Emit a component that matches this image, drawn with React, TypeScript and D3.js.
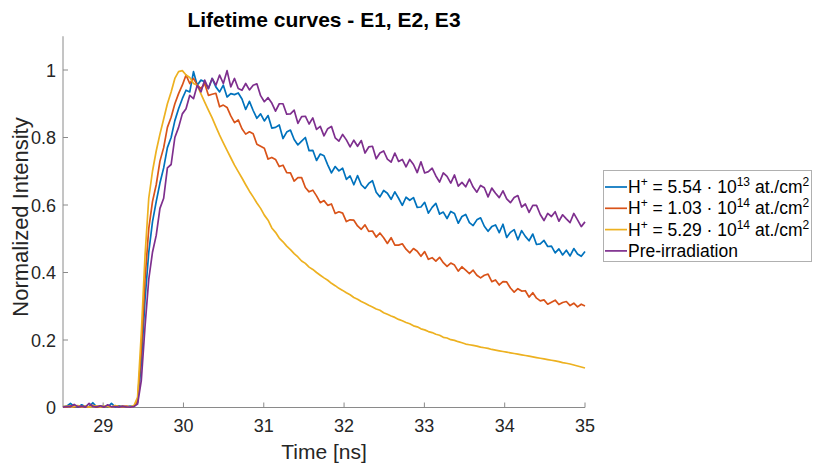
import React from "react";
import * as d3 from "d3";

const T_START = 28.5;
const T_END = 35;

const seriesNames = ["E1", "E2", "E3", "Pre"];
const colors = ["#0072BD", "#D95319", "#EDB120", "#7E2F8E"];

const blue = [
  0.002,0.004,0.012,0.003,0.001,0.008,0.002,0.003,0.014,0.002,
  0.004,0.003,0.001,0.012,0.002,0.005,0.003,0.002,0.004,0.003,
  0.015,0.13,0.32,0.46,0.55,0.61,0.665,0.71,0.77,0.80,
  0.85,0.885,0.915,0.94,0.935,0.995,0.955,0.97,0.965,0.945,
  0.975,0.95,0.935,0.955,0.92,0.93,0.927,0.932,0.914,0.883,
  0.907,0.88,0.857,0.87,0.849,0.865,0.828,0.83,0.837,0.797,
  0.816,0.822,0.794,0.778,0.789,0.80,0.761,0.762,0.732,0.751,
  0.746,0.719,0.695,0.714,0.701,0.709,0.676,0.686,0.66,0.687,
  0.66,0.649,0.664,0.672,0.638,0.624,0.643,0.635,0.617,0.639,
  0.62,0.599,0.623,0.614,0.622,0.593,0.594,0.608,0.576,0.593,
  0.605,0.573,0.579,0.56,0.581,0.575,0.546,0.566,0.572,0.548,
  0.539,0.556,0.562,0.537,0.522,0.536,0.541,0.518,0.543,0.504,
  0.519,0.527,0.497,0.524,0.507,0.494,0.514,0.483,0.485,0.495,
  0.477,0.478,0.458,0.47,0.452,0.466,0.449,0.471,0.455,0.448,0.462,
];

const red = [
  0.003,0.001,0.005,0.002,0.004,0.001,0.003,0.002,0.006,0.001,
  0.003,0.002,0.004,0.001,0.005,0.003,0.002,0.004,0.001,0.004,
  0.02,0.17,0.38,0.53,0.61,0.66,0.73,0.77,0.83,0.86,
  0.90,0.93,0.955,0.985,0.96,0.975,0.955,0.945,0.96,0.925,
  0.928,0.931,0.891,0.896,0.889,0.864,0.844,0.852,0.826,0.81,
  0.817,0.811,0.78,0.774,0.768,0.736,0.741,0.735,0.714,0.718,
  0.696,0.695,0.671,0.681,0.681,0.652,0.639,0.644,0.627,0.607,
  0.613,0.599,0.603,0.575,0.58,0.576,0.551,0.556,0.555,0.538,
  0.528,0.541,0.522,0.523,0.505,0.517,0.503,0.486,0.503,0.481,
  0.481,0.485,0.469,0.458,0.471,0.463,0.448,0.462,0.439,0.444,
  0.434,0.445,0.429,0.418,0.428,0.422,0.404,0.417,0.407,0.397,
  0.407,0.392,0.384,0.392,0.395,0.373,0.378,0.363,0.373,0.372,
  0.354,0.342,0.352,0.345,0.346,0.327,0.34,0.324,0.316,0.319,
  0.306,0.312,0.318,0.305,0.311,0.314,0.302,0.309,0.298,0.306,0.301,
];

const yellow = [
  0.002,0.004,0.001,0.003,0.006,0.002,0.004,0.001,0.003,0.005,
  0.002,0.004,0.003,0.001,0.006,0.002,0.004,0.003,0.002,0.005,
  0.03,0.22,0.45,0.62,0.70,0.76,0.81,0.855,0.90,0.935,
  0.975,0.995,0.998,0.985,0.978,0.96,0.955,0.929,0.905,0.881,
  0.858,0.832,0.807,0.784,0.762,0.74,0.718,0.699,0.68,0.66,
  0.641,0.624,0.606,0.59,0.57,0.555,0.532,0.519,0.502,0.491,
  0.478,0.468,0.456,0.446,0.434,0.427,0.416,0.409,0.40,0.392,
  0.384,0.377,0.368,0.361,0.353,0.347,0.34,0.334,0.326,0.321,
  0.314,0.309,0.303,0.298,0.292,0.288,0.281,0.276,0.271,0.267,
  0.261,0.257,0.252,0.248,0.242,0.239,0.233,0.23,0.225,0.222,
  0.217,0.214,0.208,0.206,0.201,0.199,0.195,0.192,0.188,0.186,
  0.184,0.182,0.179,0.177,0.175,0.172,0.17,0.168,0.166,0.164,
  0.162,0.16,0.158,0.156,0.154,0.152,0.15,0.148,0.146,0.144,
  0.142,0.14,0.138,0.136,0.133,0.131,0.129,0.126,0.123,0.12,0.117,
];

const purple = [
  0.001,0.003,0.002,0.009,0.002,0.004,0.001,0.012,0.003,0.002,
  0.005,0.001,0.008,0.002,0.003,0.001,0.004,0.002,0.001,0.003,
  0.01,0.08,0.24,0.38,0.46,0.51,0.59,0.62,0.71,0.72,
  0.80,0.83,0.87,0.885,0.925,0.915,0.955,0.935,0.97,0.945,
  0.975,0.955,0.985,0.96,0.998,0.95,0.975,0.945,0.94,0.96,
  0.941,0.955,0.959,0.924,0.906,0.918,0.902,0.878,0.90,0.90,
  0.869,0.87,0.881,0.842,0.862,0.863,0.84,0.858,0.824,0.833,
  0.805,0.826,0.833,0.799,0.789,0.809,0.793,0.772,0.792,0.774,
  0.791,0.754,0.772,0.774,0.737,0.754,0.76,0.736,0.727,0.754,
  0.729,0.735,0.713,0.735,0.72,0.696,0.728,0.695,0.699,0.709,
  0.686,0.668,0.695,0.685,0.665,0.689,0.656,0.667,0.654,0.677,
  0.653,0.638,0.658,0.651,0.624,0.65,0.635,0.622,0.642,0.618,
  0.607,0.622,0.628,0.594,0.603,0.578,0.599,0.599,0.572,0.554,
  0.575,0.566,0.58,0.552,0.571,0.559,0.548,0.575,0.556,0.536,0.55,
];

const xTicks = [29, 30, 31, 32, 33, 34, 35];
const yTicks = [0, 0.2, 0.4, 0.6, 0.8, 1];
const yTickLabels = ["0", "0.2", "0.4", "0.6", "0.8", "1"];

const legendBases = ["5.54", "1.03", "5.29"];
const legendExps = ["13", "14", "14"];
const legendLast = "Pre-irradiation";

const W = 813;
const H = 465;

export default function App() {
  const x = d3.scaleLinear().domain([T_START, T_END]).range([63, 585]);
  const y = d3.scaleLinear().domain([0, 1.1]).range([407.5, 36.25]);
  const data = [blue, red, yellow, purple];
  const font = "'Liberation Sans', Arial, sans-serif";
  const axisColor = "#8a8a8a";
  const textColor = "#262626";
  const cx = (63 + 585) / 2;

  return (
    <svg
      width={W}
      height={H}
      style={{ position: "absolute", left: 0, top: 0, background: "#fff" }}
      fontFamily={font}
    >
      <rect x={0} y={0} width={W} height={H} fill="#fff" />
      <text x={cx} y={27} textAnchor="middle" fontWeight="bold" fontSize={21} fill="#000">
        Lifetime curves - E1, E2, E3
      </text>
      <line x1={63} x2={63} y1={36.25} y2={407.5} stroke={axisColor} strokeWidth={1} />
      <line x1={63} x2={585} y1={407.5} y2={407.5} stroke={axisColor} strokeWidth={1} />
      {xTicks.map((t) => (
        <g key={"x" + t}>
          <line x1={x(t)} x2={x(t)} y1={407.5} y2={402.5} stroke={axisColor} />
          <text x={x(t)} y={432} textAnchor="middle" fontSize={18} fill={textColor}>
            {t}
          </text>
        </g>
      ))}
      {yTicks.map((t, i) => (
        <g key={"y" + t}>
          <line x1={63} x2={68} y1={y(t)} y2={y(t)} stroke={axisColor} />
          <text x={56} y={y(t) + 6.5} textAnchor="end" fontSize={18} fill={textColor}>
            {yTickLabels[i]}
          </text>
        </g>
      ))}
      <text x={cx} y={459} textAnchor="middle" fontSize={21} fill={textColor}>
        Time [ns]
      </text>
      <text
        transform={`translate(28,217) rotate(-90)`}
        textAnchor="middle"
        fontSize={22}
        fill={textColor}
      >
        Normalized Intensity
      </text>
      <g fill="none" strokeWidth={1.7} strokeLinejoin="round">
        {data.map((d, k) => {
          const n = d.length;
          const line = d3
            .line<number>()
            .x((_, i) => x(T_START + (i * (T_END - T_START)) / (n - 1)))
            .y((v) => y(v));
          return <path key={seriesNames[k]} d={line(d) || ""} stroke={colors[k]} />;
        })}
      </g>
      <g>
        <rect x={603.5} y={170.5} width={208} height={91} fill="#fff" stroke="#b0b0b0" />
        {[0, 1, 2, 3].map((k) => {
          const cy = 187 + k * 21.3;
          return (
            <g key={"lg" + k}>
              <line x1={605} x2={627} y1={cy} y2={cy} stroke={colors[k]} strokeWidth={1.7} />
              {k < 3 ? (
                <text x={628} y={cy + 6} fontSize={17.5} fill="#000">
                  H
                  <tspan dy={-7} fontSize={12}>+</tspan>
                  <tspan dy={7}>{` = ${legendBases[k]} \u00B7 10`}</tspan>
                  <tspan dy={-7} fontSize={12}>{legendExps[k]}</tspan>
                  <tspan dy={7}>{" at./cm"}</tspan>
                  <tspan dy={-7} fontSize={12}>2</tspan>
                </text>
              ) : (
                <text x={628} y={cy + 6} fontSize={17.5} fill="#000">
                  {legendLast}
                </text>
              )}
            </g>
          );
        })}
      </g>
    </svg>
  );
}
